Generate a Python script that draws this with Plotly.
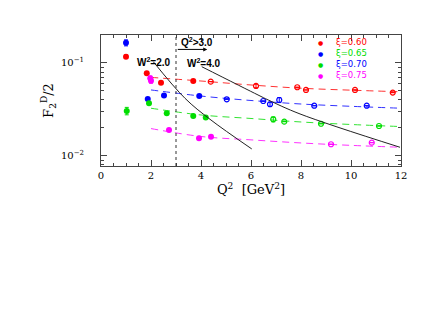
import plotly.graph_objects as go

# ---- data ----
# xi = 0.60 (red)
red_q2_f = [1.0, 1.83, 2.4, 3.69]
red_f_f = [0.117, 0.0775, 0.0614, 0.064]
red_e_f = [0.0049, 0, 0, 0]
red_q2_o = [4.39, 6.2, 7.85, 8.2, 10.16, 11.67]
red_f_o = [0.063, 0.0566, 0.0548, 0.0513, 0.0513, 0.048]
red_e_o = [0, 0.0024, 0, 0, 0, 0]
# xi = 0.65 (blue)
blue_q2_f = [1.0, 1.87, 2.52, 3.93]
blue_f_f = [0.165, 0.041, 0.0446, 0.0441]
blue_e_f = [0.0122, 0, 0, 0]
blue_q2_o = [5.03, 6.49, 6.76, 7.13, 8.53, 10.63]
blue_f_o = [0.0407, 0.039, 0.036, 0.040, 0.0347, 0.0347]
blue_e_o = [0, 0, 0.0018, 0.0025, 0, 0]
# xi = 0.70 (green)
green_q2_f = [1.03, 1.92, 2.63, 3.69, 4.19]
green_f_f = [0.0305, 0.0369, 0.0288, 0.0269, 0.026]
green_e_f = [0.0028, 0, 0, 0, 0]
green_q2_o = [6.89, 7.33, 8.8, 11.12]
green_f_o = [0.0248, 0.0234, 0.0222, 0.021]
green_e_o = [0.0015, 0, 0, 0]
# xi = 0.75 (magenta)
mag_q2_f = [1.97, 2.0, 2.72, 3.92, 4.4]
mag_f_f = [0.0684, 0.0646, 0.019, 0.0155, 0.0161]
mag_e_f = [0.004, 0.004, 0, 0, 0]
mag_q2_o = [9.2, 10.83]
mag_f_o = [0.01336, 0.0139]
mag_e_o = [0, 0]

# fit curves
fit_q2 = [2, 4, 6, 8, 10, 12]
red_fit = [0.070, 0.064, 0.058, 0.0535, 0.051, 0.049]
blue_fit = [0.0513, 0.0441, 0.0395, 0.0362, 0.0342, 0.0326]
green_fit = [0.0326, 0.0276, 0.0253, 0.0232, 0.0218, 0.0207]
mag_fit = [0.0197, 0.0162, 0.0149, 0.0138, 0.0130, 0.0124]

# constant W^2 curves
w2a_q2 = [2.09, 3.36, 4.36, 6.03]
w2a_f = [0.1033, 0.0417, 0.0248, 0.0119]
w2b_q2 = [4.03, 6.28, 6.69, 7.96, 11.96]
w2b_f = [0.0912, 0.0453, 0.040, 0.0283, 0.0124]

q2_cut = 3.0
legend_labels = ["ξ=0.60", "ξ=0.65", "ξ=0.70", "ξ=0.75"]
legend_marker_colors = ["#ff0000", "#0000ff", "#00dd00", "#ff00ff"]
legend_text_colors = ["#ff0000", "#00dd00", "#0000ff", "#ff00ff"]

x_ticks = [0, 2, 4, 6, 8, 10, 12]
y_ticks = [0.01, 0.1]
y_ticktext = ["10<sup>−2</sup>", "10<sup>−1</sup>"]
y_minor = [0.008, 0.009, 0.02, 0.03, 0.04, 0.05, 0.06, 0.07, 0.08, 0.09, 0.2]

RED, BLUE, GREEN, MAG = "#ff0000", "#0000ff", "#00dd00", "#ff00ff"

fig = go.Figure()

def add_series(q2f, ff, ef, q2o, fo, eo, fitv, color):
    fig.add_trace(go.Scatter(x=fit_q2, y=fitv, mode="lines", line_shape="spline",
                             line=dict(color=color, width=1, dash="7px,5px"), opacity=0.8))
    fig.add_trace(go.Scatter(x=q2f, y=ff, mode="markers",
                             marker=dict(symbol="circle", size=6, color=color),
                             error_y=dict(type="data", array=ef, color=color, thickness=1, width=2)))
    fig.add_trace(go.Scatter(x=q2o, y=fo, mode="markers",
                             marker=dict(symbol="circle-open", size=5, color=color, line=dict(width=1.2)),
                             error_y=dict(type="data", array=eo, color=color, thickness=1, width=2)))

add_series(red_q2_f, red_f_f, red_e_f, red_q2_o, red_f_o, red_e_o, red_fit, RED)
add_series(blue_q2_f, blue_f_f, blue_e_f, blue_q2_o, blue_f_o, blue_e_o, blue_fit, BLUE)
add_series(green_q2_f, green_f_f, green_e_f, green_q2_o, green_f_o, green_e_o, green_fit, GREEN)
add_series(mag_q2_f, mag_f_f, mag_e_f, mag_q2_o, mag_f_o, mag_e_o, mag_fit, MAG)

fig.add_trace(go.Scatter(x=w2a_q2, y=w2a_f, mode="lines", line_shape="spline",
                         line=dict(color="#222222", width=1)))
fig.add_trace(go.Scatter(x=w2b_q2, y=w2b_f, mode="lines", line_shape="spline",
                         line=dict(color="#222222", width=1)))

fig.add_shape(type="line", xref="x", yref="paper", x0=q2_cut, x1=q2_cut, y0=0, y1=1,
              line=dict(color="#333333", width=1, dash="dot"))

ann_font = dict(family="Liberation Sans", size=10, color="black")
fig.add_annotation(x=4.25, y=0.89, xref="x", yref="paper", ax=-31, ay=0, axref="pixel",
                   ayref="pixel", showarrow=True, arrowhead=2, arrowsize=0.8, arrowwidth=1,
                   arrowcolor="black", text="")
fig.add_annotation(x=3.12, y=0.945, xref="x", yref="paper", xanchor="left", yanchor="middle",
                   text="<b>Q<sup>2</sup>>3.0</b>", showarrow=False, font=ann_font)
fig.add_annotation(x=2.12, y=0.795, xref="x", yref="paper", xanchor="center", yanchor="middle",
                   text="<b>W<sup>2</sup>=2.0</b>", showarrow=False, font=ann_font)
fig.add_annotation(x=4.1, y=0.79, xref="x", yref="paper", xanchor="center", yanchor="middle",
                   text="<b>W<sup>2</sup>=4.0</b>", showarrow=False, font=ann_font)

# legend drawn as two text blocks (markers column and labels column)
marker_block = "<br>".join(f"<span style='color:{c};font-size:6px'>●</span>"
                           for c in legend_marker_colors)
label_block = "<br>".join(f"<span style='color:{c}'>{t}</span>"
                          for t, c in zip(legend_labels, legend_text_colors))
fig.add_annotation(x=0.73, y=0.818, xref="paper", yref="paper", text=marker_block,
                   showarrow=False, xanchor="center", yanchor="middle", align="center",
                   font=dict(family="DejaVu Sans", size=8.5))
fig.add_annotation(x=0.775, y=0.818, xref="paper", yref="paper", text=label_block,
                   showarrow=False, xanchor="left", yanchor="middle", align="left",
                   font=dict(family="DejaVu Sans", size=8.5))

axis_common = dict(showline=True, linecolor="#444444", linewidth=1, mirror="ticks",
                   ticks="inside", tickcolor="#444444", showgrid=False, zeroline=False,
                   automargin=False)

fig.update_xaxes(range=[0, 12], tickvals=x_ticks, ticklen=6,
                 minor=dict(dtick=0.5, ticks="inside", ticklen=3, tickcolor="#444444"),
                 tickfont=dict(family="DejaVu Serif", size=10, color="black"),
                 title=dict(text="Q<sup>2</sup>  [GeV<sup>2</sup>]", standoff=2,
                            font=dict(family="DejaVu Serif", size=13, color="black")),
                 **axis_common)
fig.update_yaxes(type="log", range=[-2.108, -0.699], tickvals=y_ticks, ticktext=y_ticktext,
                 ticklen=6, ticklabelstandoff=14,
                 minor=dict(tickvals=y_minor, ticks="inside", ticklen=3, tickcolor="#444444"),
                 tickfont=dict(family="DejaVu Serif", size=10, color="black"),
                 title=dict(text="F<sub>2</sub><sup>D</sup>/2", standoff=4,
                            font=dict(family="DejaVu Serif", size=13, color="black")),
                 **axis_common)

# page body adds an 8px offset, so the figure is 8px smaller and margins shifted
fig.update_layout(width=439, height=319, margin=dict(l=93, r=46, t=27, b=161),
                  paper_bgcolor="white", plot_bgcolor="white", showlegend=False)

fig.write_html("out.html")
